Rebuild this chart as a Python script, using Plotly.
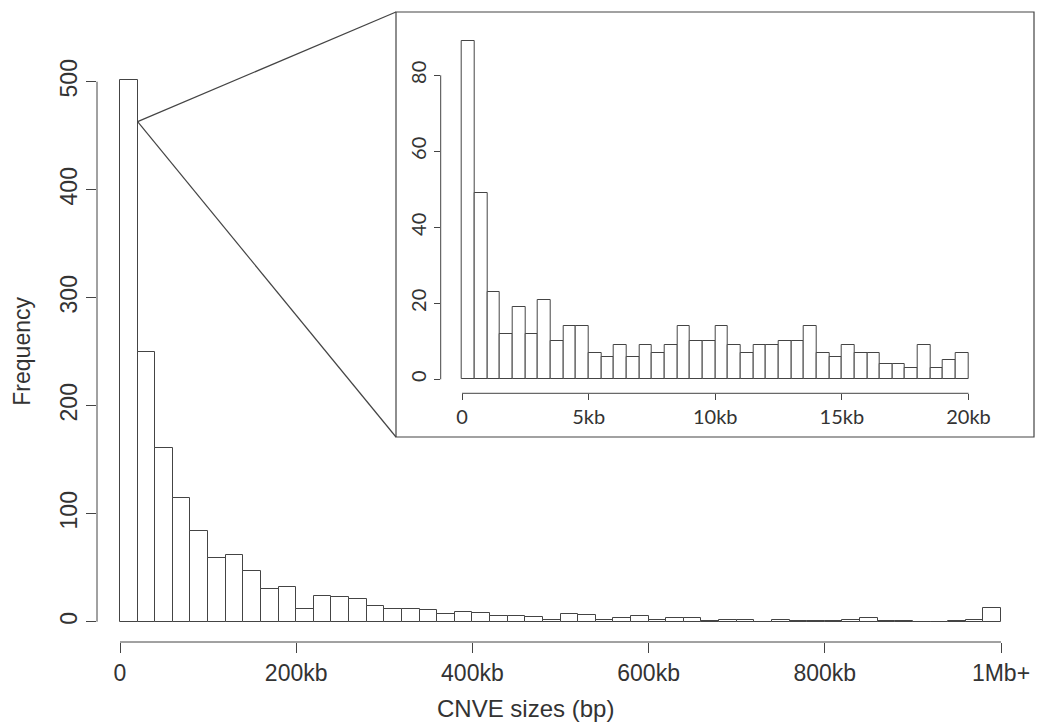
import plotly.graph_objects as go

# ---------------- data ----------------
main_bin_width = 20000
main_counts = [502, 250, 161, 115, 84, 59, 62, 47, 30, 32,
               12, 24, 23, 21, 15, 12, 12, 11, 7, 9,
               8, 5, 5, 4, 2, 7, 6, 2, 3, 5,
               2, 3, 3, 1, 2, 2, 0, 2, 1, 1,
               1, 2, 3, 1, 1, 0, 0, 1, 2, 13]
main_xtick_vals = [0, 200000, 400000, 600000, 800000, 1000000]
main_xtick_text = ["0", "200kb", "400kb", "600kb", "800kb", "1Mb+"]
main_ytick_vals = [0, 100, 200, 300, 400, 500]

inset_bin_width = 500
inset_counts = [89, 49, 23, 12, 19, 12, 21, 10, 14, 14,
                7, 6, 9, 6, 9, 7, 9, 14, 10, 10,
                14, 9, 7, 9, 9, 10, 10, 14, 7, 6,
                9, 7, 7, 4, 4, 3, 9, 3, 5, 7]
inset_xtick_vals = [0, 5000, 10000, 15000, 20000]
inset_xtick_text = ["0", "5kb", "10kb", "15kb", "20kb"]
inset_ytick_vals = [0, 20, 40, 60, 80]

zoom_anchor = (20000, 463)   # point on main histogram where the zoom lines start

x_title = "CNVE sizes (bp)"
y_title = "Frequency"

# ---------------- layout geometry (pixels) ----------------
W, H = 1041, 724
def px(x): return x / W
def py(y): return 1 - y / H

LINE = "#444444"
TEXT = "#333333"
MAIN_FONT = dict(family="Liberation Sans, Arial, sans-serif", size=23, color=TEXT)
TITLE_FONT = dict(family="Liberation Sans, Arial, sans-serif", size=24, color=TEXT)
INSET_FONT = dict(family="Lato, Open Sans, sans-serif", size=20, color=TEXT)

# main axes
m_left, m_right, m_top, m_bottom = 97, 1041, 0, 642
m_x0px, m_x1px = 120, 1001          # pixel of 0 and 1Mb
m_y0px, m_y500px = 621.7, 81.7      # pixel of 0 and 500
sx = (main_xtick_vals[-1] - 0) / (m_x1px - m_x0px)
sy = 500 / (m_y0px - m_y500px)
m_xrange = [(m_left - m_x0px) * sx, (m_right - m_x0px) * sx]
m_yrange = [(m_y0px - m_bottom) * sy, (m_y0px - m_top) * sy]

# inset axes
i_left, i_right, i_top, i_bottom = 440.7, 1000, 20, 393.3
i_x0px, i_x1px = 462, 968.5
i_y0px, i_y80px = 379.3, 75.3
isx = 20000 / (i_x1px - i_x0px)
isy = 80 / (i_y0px - i_y80px)
i_xrange = [(i_left - i_x0px) * isx, (i_right - i_x0px) * isx]
i_yrange = [(i_y0px - i_bottom) * isy, (i_y0px - i_top) * isy]

box = dict(x0=396, y0=12, x1=1034, y1=437)   # inset frame (pixels)

def paper_to_main(xp, yp):
    return (m_xrange[0] + (xp - m_left) * sx, m_yrange[1] - (yp - m_top) * sy)

# ---------------- traces ----------------
main_x = [main_bin_width * (i + 0.5) for i in range(len(main_counts))]
inset_x = [inset_bin_width * (i + 0.5) for i in range(len(inset_counts))]

fig = go.Figure()
fig.add_trace(go.Bar(x=main_x, y=main_counts, width=main_bin_width,
                     marker=dict(color="white", line=dict(color=LINE, width=1)),
                     xaxis="x", yaxis="y", showlegend=False, hoverinfo="x+y"))
fig.add_trace(go.Bar(x=inset_x, y=inset_counts, width=inset_bin_width,
                     marker=dict(color="white", line=dict(color=LINE, width=1)),
                     xaxis="x2", yaxis="y2", showlegend=False, hoverinfo="x+y"))

# ---------------- axes ----------------
common = dict(showgrid=False, zeroline=False, showline=False, ticks="outside",
              tickcolor=LINE, tickwidth=1, fixedrange=True)
fig.update_layout(
    width=W, height=H, margin=dict(l=0, r=0, t=0, b=0),
    paper_bgcolor="white", plot_bgcolor="rgba(0,0,0,0)",
    bargap=0,
    xaxis=dict(domain=[px(m_left), px(m_right)], range=m_xrange, anchor="y",
               tickvals=main_xtick_vals, ticktext=main_xtick_text, ticklen=10,
               tickfont=MAIN_FONT, **common),
    yaxis=dict(domain=[py(m_bottom), py(m_top)], range=m_yrange, anchor="x",
               tickvals=main_ytick_vals, ticklen=10, tickangle=-90,
               tickfont=MAIN_FONT, **common),
    xaxis2=dict(domain=[px(i_left), px(i_right)], range=i_xrange, anchor="y2",
                tickvals=inset_xtick_vals, ticktext=inset_xtick_text, ticklen=6,
                tickfont=INSET_FONT, **common),
    yaxis2=dict(domain=[py(i_bottom), py(i_top)], range=i_yrange, anchor="x2",
                tickvals=inset_ytick_vals, ticklen=6, tickangle=-90,
                tickfont=INSET_FONT, **common),
)

shapes = []
# main axis lines (R style: span first to last tick)
shapes.append(dict(type="line", xref="x", yref="paper", x0=main_xtick_vals[0], x1=main_xtick_vals[-1],
                   y0=py(m_bottom), y1=py(m_bottom), line=dict(color=LINE, width=1)))
shapes.append(dict(type="line", xref="paper", yref="y", x0=px(m_left), x1=px(m_left),
                   y0=main_ytick_vals[0], y1=main_ytick_vals[-1], line=dict(color=LINE, width=1)))
# inset axis lines
shapes.append(dict(type="line", xref="x2", yref="paper", x0=inset_xtick_vals[0], x1=inset_xtick_vals[-1],
                   y0=py(i_bottom), y1=py(i_bottom), line=dict(color=LINE, width=1)))
shapes.append(dict(type="line", xref="paper", yref="y2", x0=px(i_left), x1=px(i_left),
                   y0=inset_ytick_vals[0], y1=inset_ytick_vals[-1], line=dict(color=LINE, width=1)))
# inset frame
shapes.append(dict(type="rect", xref="paper", yref="paper",
                   x0=px(box["x0"]), x1=px(box["x1"]), y0=py(box["y1"]), y1=py(box["y0"]),
                   line=dict(color=LINE, width=1.2), fillcolor="white", layer="below"))
# zoom connector lines
for cy in (box["y0"], box["y1"]):
    ex, ey = paper_to_main(box["x0"], cy)
    shapes.append(dict(type="line", xref="x", yref="y", x0=zoom_anchor[0], y0=zoom_anchor[1],
                       x1=ex, y1=ey, line=dict(color=LINE, width=1.2)))
fig.update_layout(shapes=shapes)

fig.add_annotation(text=x_title, xref="paper", yref="paper", x=px(525), y=py(708),
                   showarrow=False, font=TITLE_FONT, xanchor="center", yanchor="middle")
fig.add_annotation(text=y_title, xref="paper", yref="paper", x=px(22), y=py((m_y0px + m_y500px) / 2),
                   showarrow=False, font=MAIN_FONT, textangle=-90, xanchor="center", yanchor="middle")

fig.write_html("out.html")
